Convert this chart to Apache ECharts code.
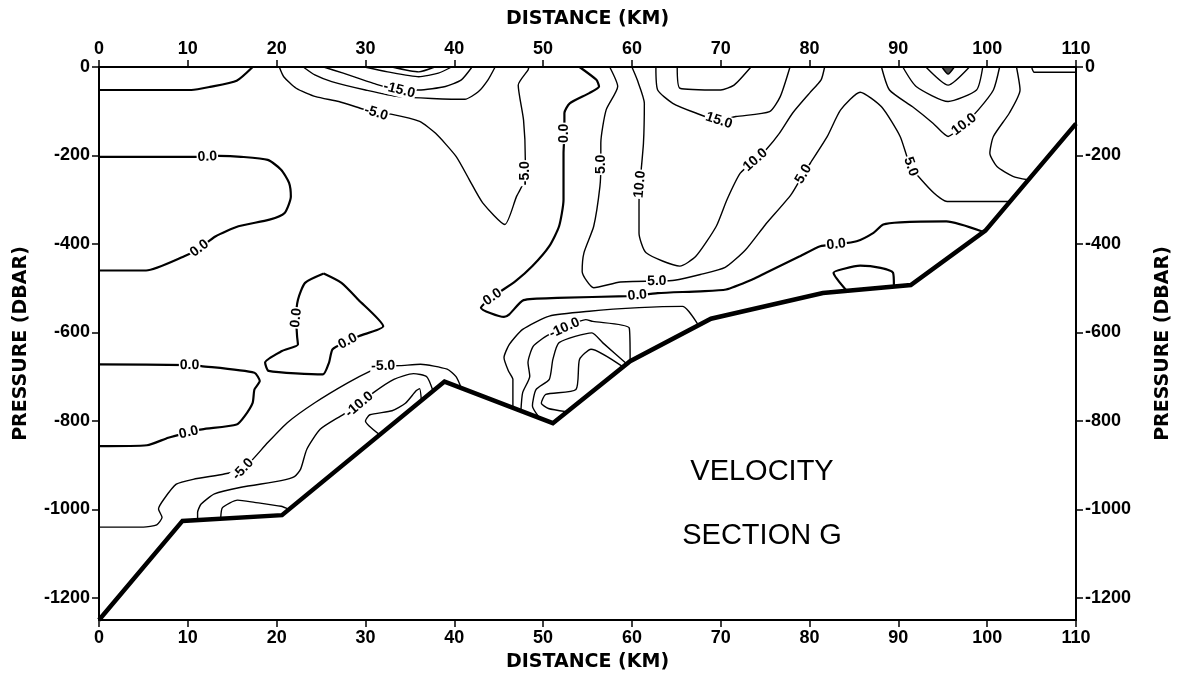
<!DOCTYPE html>
<html>
<head>
<meta charset="utf-8">
<script src="https://cdn.jsdelivr.net/npm/echarts@6/dist/echarts.min.js"></script>
<style>
  html, body { margin: 0; padding: 0; background: #fff; }
  #chart { width: 1177px; height: 677px; }
</style>
</head>
<body>
<div id="chart"></div>
<script>
// Axis ticks
const distanceTicks = [0, 10, 20, 30, 40, 50, 60, 70, 80, 90, 100, 110];
const pressureTicks = [0, -200, -400, -600, -800, -1000, -1200];

// Bottom profile along the section: [distance km, pressure dbar]
const seafloor = [[0,-1250],[9.4,-1026],[20.6,-1013],[38.9,-711],[51.1,-805],[59.8,-665],
  [68.9,-569],[81.5,-511],[91.4,-493],[99.8,-370],[110,-128]];

// Velocity isolines (cm/s), each a polyline of [distance km, pressure dbar]
const zeroWestTop = [[0,-52],[10.4,-52],[12.5,-45],[15.5,-31],[17.3,0]];
const zeroWestUpper = [[0,-203],[11.2,-203],[13.5,-201],[16,-203],[19,-210],[20.5,-232],[21.4,-262],
  [21.6,-293],[20.9,-330],[19.2,-345],[15.7,-360],[13.1,-383],[11.3,-410],[9.6,-428],[5.3,-460],[0,-460]];
const zeroWestLower = [[0,-672],[10.2,-674],[11.5,-676],[17.5,-691],[18.1,-710],[17.5,-729],[17.3,-759],
  [16.4,-789],[15.5,-808],[11.6,-819],[10.1,-826],[7.8,-838],[5.4,-855],[0,-857]];
const zeroEddy = [[25.3,-467],[23.2,-488],[22.4,-526],[22.2,-567],[22.3,-608],[22.4,-627],[20.6,-642],
  [18.7,-668],[19.1,-687],[25.2,-695],[25.9,-668],[26.3,-638],[28,-620],[29.3,-608],[32,-586],
  [29.2,-526],[27.3,-488],[25.3,-467]];
const zeroCentral = [[54.1,0],[56,-29],[56.3,-44],[55.2,-59],[53,-82],[52.4,-104],[52.4,-150],[52.3,-195],
  [52.3,-300],[51.8,-360],[50.7,-405],[48.8,-450],[46.9,-484],[44.3,-520],[43,-544],[45.6,-565],
  [46.2,-559],[47.8,-527],[51.6,-522],[59.5,-518],[60.6,-516],[62.9,-511],[67.7,-507],[70.6,-503],
  [73.6,-480],[75.1,-465],[78.9,-428],[81.2,-405],[83,-401],[85.3,-394],[87.2,-375],[88.3,-356],
  [90.2,-351],[95.4,-349],[99.6,-373]];
const zeroBump = [[84.2,-506],[82.7,-465],[83.9,-456],[85.7,-449],[88,-454],[89.4,-465],[89.5,-496]];

const minus5Upper = [[20.3,0],[20.8,-22],[22.2,-48],[24.4,-67],[27,-78],[29.7,-95],[31.2,-104],[33,-107],
  [36.1,-123],[37.9,-150],[40.2,-202],[41.7,-255],[43.2,-307],[45.7,-356],[47,-293],[48,-250],[48,-210],
  [47.8,-120],[47.2,-41],[48.3,-7],[48.4,0]];
const minus5Lower = [[40.8,-726],[40.2,-700],[39.2,-683],[36.2,-672],[33.9,-675],[32,-676],[30.6,-687],
  [28,-714],[24.3,-759],[21.2,-804],[19,-849],[16.2,-909],[14.1,-920],[10.6,-932],[8.7,-943],[7.3,-977],
  [6.7,-999],[7.1,-1018],[6.5,-1035],[5,-1040],[0,-1040]];
const minus5Trough = [[46.6,-770],[46.6,-706],[46.1,-687],[45.6,-657],[46.2,-627],[47.7,-593],[50.7,-563],
  [55.2,-552],[60.8,-544],[65.7,-541],[67.5,-584]];

const minus10Upper = [[23.0,0],[24.3,-18],[26.2,-33],[30,-52],[33.7,-67],[41.2,-73],[42.7,-56],[43.8,-29],[44.6,0]];
const minus10Lower = [[37.6,-732],[36.9,-700],[35.4,-693],[33.2,-706],[30.9,-736],[29.3,-763],[27.2,-789],
  [24.9,-819],[23.4,-864],[22.7,-909],[22,-926],[20.5,-935],[16,-950],[13,-965],[11.5,-988],[11.1,-1007],[11.1,-1024]];
const minus10Trough = [[47.5,-777],[47.7,-736],[48.5,-699],[48.3,-668],[48.9,-631],[50.4,-608],[52.4,-590],
  [54.8,-571],[55.6,-575],[59.7,-590],[59.8,-665]];

const minus15Upper = [[25.3,0],[27.5,-14],[30.9,-37],[33.8,-52],[36,-52],[39,-44],[40.8,-29],[42,0]];
const minus15Shelf = [[13.7,-1021],[13.9,-996],[15.6,-979],[17.5,-984],[20.5,-993],[21.4,-1000]];
const minus15Slope = [[31.6,-831],[30,-800],[30.5,-786],[33,-777],[34.5,-760],[35.7,-732],[36.1,-727],[36.3,-754]];
const minus15Trough = [[49.6,-793],[48.8,-766],[49.2,-729],[50.7,-706],[51.1,-661],[51.8,-623],[55.5,-601],
  [56.7,-623],[59.4,-671]];

const minus20Upper = [[29.9,0],[32.5,-11],[36,-22],[38.2,-14],[39.7,0]];
const minus20Trough = [[59.0,-678],[55.4,-638],[54.1,-661],[53.7,-729],[50.3,-740],[49.8,-760],[50.6,-772],[52.6,-779]];
const minus25Upper = [[33,0],[36,-11],[37.8,0]];

const plus5 = [[57.5,0],[58.4,-44],[57.1,-97],[56.5,-172],[56.5,-220],[56.4,-270],[55.7,-360],[54.6,-420],
  [54.4,-462],[55.7,-499],[58.7,-486],[62.8,-484],[64.8,-482],[67.7,-469],[70.5,-453],[72.8,-413],[75,-357],
  [77.9,-289],[79.3,-242],[80.1,-217],[82,-157],[83.5,-97],[85.7,-57],[88.1,-90],[90.2,-157],[91.4,-225],
  [94,-285],[95.5,-304],[102.6,-304]];
const plus5East = [[103.3,0],[103.7,-52],[102.5,-104],[100.7,-157],[100.3,-195],[101.1,-225],[102.9,-247],[104.6,-255]];

const plus10 = [[60,0],[60.6,-29],[61.4,-82],[61.3,-172],[60.9,-265],[60.8,-307],[60.8,-375],[61.6,-420],
  [65.4,-450],[67.2,-428],[69.5,-360],[70.7,-300],[72.2,-240],[73.9,-210],[75.1,-187],[76.6,-150],
  [78.1,-104],[80,-59],[81.3,-29],[81.7,0]];
const plus10East = [[88.1,0],[89,-52],[91.6,-90],[93.9,-127],[95.6,-157],[97.4,-130],[99,-97],[100.7,-52],[101.4,0]];

const plus15 = [[62.7,0],[62.9,-52],[64.6,-82],[67.2,-104],[69.8,-121],[71.7,-112],[75.5,-101],[76.7,-67],[77.8,0]];
const plus15East = [[90.5,0],[92,-44],[95.6,-78],[98.8,-52],[99.5,0]];

const plus20 = [[65.1,0],[65.4,-48],[70,-52],[71.5,-41],[73.4,0]];
const plus20East = [[93.1,0],[95.6,-41],[98,0]];
const plus25East = [[94.9,0],[95.6,-16],[96.3,0]];
const eastCorner = [[105,0],[105.3,-12],[110,-12]];

const contours = [
  { level: 0, pts: zeroWestTop }, { level: 0, pts: zeroWestUpper }, { level: 0, pts: zeroWestLower },
  { level: 0, pts: zeroEddy }, { level: 0, pts: zeroCentral }, { level: 0, pts: zeroBump },
  { level: -5, pts: minus5Upper }, { level: -5, pts: minus5Lower }, { level: -5, pts: minus5Trough },
  { level: -10, pts: minus10Upper }, { level: -10, pts: minus10Lower }, { level: -10, pts: minus10Trough },
  { level: -15, pts: minus15Upper }, { level: -15, pts: minus15Shelf }, { level: -15, pts: minus15Slope },
  { level: -15, pts: minus15Trough }, { level: -20, pts: minus20Upper }, { level: -20, pts: minus20Trough },
  { level: -25, pts: minus25Upper }, { level: 5, pts: plus5 }, { level: 5, pts: plus5East },
  { level: 10, pts: plus10 }, { level: 10, pts: plus10East }, { level: 15, pts: plus15 },
  { level: 15, pts: plus15East }, { level: 20, pts: plus20 }, { level: 20, pts: plus20East },
  { level: 25, pts: plus25East, filled: true }, { level: 5, pts: eastCorner }
];

// Inline isoline labels: [distance km, pressure dbar, text]
const contourLabels = [
  [33.8,-52,'-15.0'], [31.2,-104,'-5.0'], [12.2,-203,'0.0'], [48.0,-240,'-5.0'],
  [52.4,-150,'0.0'], [56.5,-220,'5.0'], [60.9,-265,'10.0'], [69.8,-121,'15.0'],
  [73.9,-210,'10.0'], [79.3,-242,'5.0'], [91.4,-225,'5.0'], [97.4,-130,'10.0'],
  [11.3,-410,'0.0'], [44.3,-520,'0.0'], [62.8,-484,'5.0'], [60.6,-516,'0.0'],
  [83,-401,'0.0'], [52.4,-590,'-10.0'], [22.2,-567,'0.0'], [28,-620,'0.0'],
  [10.2,-674,'0.0'], [32,-676,'-5.0'], [29.3,-763,'-10.0'], [10.1,-826,'0.0'],
  [16.2,-909,'-5.0']
];

const FONT_TICK = "'Liberation Sans', Arial, sans-serif";
const FONT_NAME = "'DejaVu Sans', sans-serif";

const chart = echarts.init(document.getElementById('chart'), null, { renderer: 'canvas' });

function xAxisDef(pos, gap) {
  return {
    type: 'value', position: pos, min: 0, max: 110, interval: 10,
    name: 'DISTANCE (KM)', nameLocation: 'middle', nameGap: gap,
    nameTextStyle: { color: '#000', fontSize: 19, fontWeight: 'bold', fontFamily: FONT_NAME },
    axisLine: { onZero: false, lineStyle: { color: '#000', width: 2 } },
    axisTick: { show: true, inside: false, length: 7, lineStyle: { color: '#000', width: 1.5 } },
    axisLabel: { color: '#000', fontSize: 18, fontWeight: 'bold', fontFamily: FONT_TICK, margin: 9 },
    splitLine: { show: false }
  };
}
function yAxisDef(pos, gap) {
  return {
    type: 'value', position: pos, min: -1250, max: 0,
    name: 'PRESSURE (DBAR)', nameLocation: 'middle', nameGap: gap, nameRotate: 90,
    nameTextStyle: { color: '#000', fontSize: 19, fontWeight: 'bold', fontFamily: FONT_NAME },
    axisLine: { onZero: false, lineStyle: { color: '#000', width: 2 } },
    axisTick: { show: true, length: 7, customValues: pressureTicks, lineStyle: { color: '#000', width: 1.5 } },
    axisLabel: { color: '#000', fontSize: 18, fontWeight: 'bold', fontFamily: FONT_TICK, margin: 9,
      customValues: pressureTicks, formatter: v => String(v) },
    splitLine: { show: false }
  };
}

function baseSeries() {
  const s = contours.map(c => ({
    type: 'line', data: c.pts, symbol: 'none', smooth: 0.2, silent: true,
    xAxisIndex: 0, yAxisIndex: 0, z: 2,
    lineStyle: { color: '#000', width: c.level === 0 ? 2.2 : 1.4 },
    areaStyle: c.filled ? { color: '#000', origin: 'end' } : undefined
  }));
  s.push({
    type: 'line', data: seafloor, symbol: 'none', silent: true, xAxisIndex: 0, yAxisIndex: 0, z: 4,
    lineStyle: { color: '#000', width: 4.5, join: 'miter' }
  });
  return s;
}

const option = {
  animation: false,
  backgroundColor: '#fff',
  grid: { left: 99, right: 101, top: 67, bottom: 57, containLabel: false, outerBoundsMode: 'none' },
  xAxis: [xAxisDef('bottom', 33), xAxisDef('top', 38)],
  yAxis: [yAxisDef('left', 68), yAxisDef('right', 78)],
  graphic: [
    { type: 'text', style: { text: 'VELOCITY', x: 762, y: 472, align: 'center', verticalAlign: 'middle',
        fontSize: 29, fontFamily: FONT_TICK, fill: '#000' } },
    { type: 'text', style: { text: 'SECTION G', x: 762, y: 536, align: 'center', verticalAlign: 'middle',
        fontSize: 29, fontFamily: FONT_TICK, fill: '#000' } }
  ],
  series: baseSeries()
};
chart.setOption(option);

// Orient each label along the nearest isoline segment (screen space)
function labelAngle(x, y) {
  const p = chart.convertToPixel({ gridIndex: 0 }, [x, y]);
  let best = Infinity, ang = 0;
  contours.forEach(c => {
    for (let i = 0; i < c.pts.length - 1; i++) {
      const a = chart.convertToPixel({ gridIndex: 0 }, c.pts[i]);
      const b = chart.convertToPixel({ gridIndex: 0 }, c.pts[i + 1]);
      const dx = b[0] - a[0], dy = b[1] - a[1];
      const len2 = dx * dx + dy * dy || 1;
      let t = ((p[0] - a[0]) * dx + (p[1] - a[1]) * dy) / len2;
      t = Math.max(0, Math.min(1, t));
      const qx = a[0] + t * dx - p[0], qy = a[1] + t * dy - p[1];
      const d = qx * qx + qy * qy;
      if (d < best) { best = d; ang = Math.atan2(-dy, dx) * 180 / Math.PI; }
    }
  });
  while (ang > 90) ang -= 180;
  while (ang <= -90) ang += 180;
  return ang;
}

const labelSeries = {
  type: 'scatter', silent: true, xAxisIndex: 0, yAxisIndex: 0, z: 6,
  symbolSize: 1, itemStyle: { color: 'rgba(0,0,0,0)' },
  data: contourLabels.map(l => ({ value: [l[0], l[1]], name: l[2], label: { rotate: labelAngle(l[0], l[1]) } })),
  label: {
    show: true, position: 'inside', formatter: '{b}', color: '#000', opacity: 1,
    fontSize: 14, fontWeight: 'bold', fontFamily: FONT_TICK,
    textBorderWidth: 0, backgroundColor: '#fff', padding: [0, 1]
  }
};
option.series = baseSeries().concat([labelSeries]);
chart.setOption(option, true);
</script>
</body>
</html>
